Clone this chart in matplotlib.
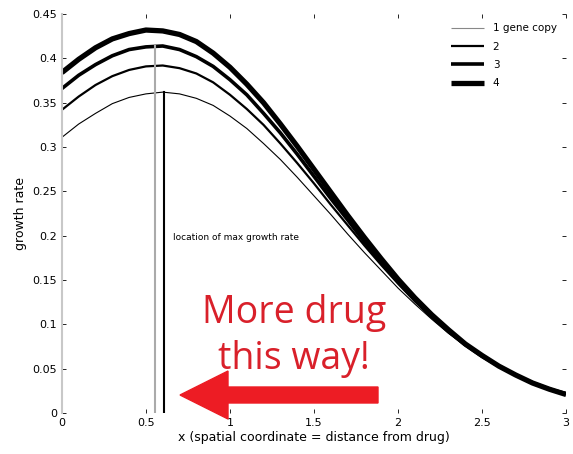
import matplotlib
matplotlib.use("Agg")
import matplotlib.pyplot as plt
from matplotlib.patches import FancyArrow

x = [0, 0.1, 0.2, 0.3, 0.4, 0.5, 0.6, 0.7, 0.8, 0.9, 1.0, 1.1, 1.2, 1.3, 1.4, 1.5,
     1.6, 1.7, 1.8, 1.9, 2.0, 2.1, 2.2, 2.3, 2.4, 2.5, 2.6, 2.7, 2.8, 2.9, 3.0]
copies1 = [0.311, 0.326, 0.338, 0.349, 0.356, 0.360, 0.362, 0.360, 0.355, 0.347, 0.335,
           0.321, 0.304, 0.286, 0.266, 0.245, 0.224, 0.202, 0.181, 0.161, 0.141, 0.123,
           0.106, 0.090, 0.076, 0.064, 0.053, 0.043, 0.035, 0.028, 0.023]
copies2 = [0.342, 0.357, 0.370, 0.380, 0.387, 0.391, 0.392, 0.389, 0.383, 0.373, 0.359,
           0.343, 0.325, 0.304, 0.282, 0.259, 0.235, 0.212, 0.189, 0.167, 0.146, 0.126,
           0.108, 0.092, 0.077, 0.064, 0.053, 0.043, 0.035, 0.028, 0.022]
copies3 = [0.366, 0.381, 0.393, 0.403, 0.410, 0.413, 0.414, 0.410, 0.402, 0.391, 0.376,
           0.359, 0.338, 0.316, 0.292, 0.267, 0.242, 0.218, 0.193, 0.170, 0.148, 0.128,
           0.109, 0.092, 0.077, 0.064, 0.053, 0.043, 0.034, 0.027, 0.022]
copies4 = [0.384, 0.399, 0.412, 0.422, 0.428, 0.432, 0.431, 0.427, 0.419, 0.406, 0.390,
           0.371, 0.350, 0.326, 0.301, 0.275, 0.249, 0.223, 0.198, 0.174, 0.151, 0.130,
           0.111, 0.094, 0.078, 0.065, 0.053, 0.043, 0.034, 0.027, 0.021]
series = [copies1, copies2, copies3, copies4]
labels = ["1 gene copy", "2", "3", "4"]
widths = [0.8, 1.6, 2.6, 3.8]

opt_grey_x, opt_grey_top = 0.555, 0.414
opt_black_x, opt_black_top = 0.607, 0.362

xticks = [0, 0.5, 1, 1.5, 2, 2.5, 3]
yticks = [0, 0.05, 0.1, 0.15, 0.2, 0.25, 0.3, 0.35, 0.4, 0.45]

fig = plt.figure(figsize=(5.73, 4.54), dpi=100)
ax = fig.add_axes([0.108, 0.090, 0.880, 0.879])

for ys, lab, lw in zip(series, labels, widths):
    ax.plot(x, ys, color="black", lw=lw, label=lab, solid_capstyle="butt")

ax.plot([opt_grey_x, opt_grey_x], [0, opt_grey_top], color="#aaaaaa", lw=1.5)
ax.plot([opt_black_x, opt_black_x], [0, opt_black_top], color="black", lw=1.5)
ax.text(0.66, 0.198, "location of max growth rate", fontsize=6.5, va="center", ha="left")

ax.set_xlim(0, 3)
ax.set_ylim(0, 0.45)
ax.set_xticks(xticks)
ax.set_xticklabels([f"{t:g}" for t in xticks])
ax.set_yticks(yticks)
ax.set_yticklabels([f"{t:g}" for t in yticks])
ax.tick_params(direction="in", length=3, labelsize=8, top=True, right=True, width=0.6)
for s in ["top", "right", "bottom"]:
    ax.spines[s].set_visible(False)
ax.spines["left"].set_color("#c8c8c8")
ax.spines["left"].set_linewidth(1.5)

ax.set_xlabel("x (spatial coordinate = distance from drug)", fontsize=9, labelpad=2)
ax.set_ylabel("growth rate", fontsize=9, labelpad=4)

leg = ax.legend(loc="upper right", frameon=False, fontsize=7.5, handlelength=3.2,
                bbox_to_anchor=(1.0, 1.0), labelspacing=0.8)
leg.get_lines()[0].set_color("#888888")

fig.text(294 / 573, 1 - 336 / 454, "More drug\nthis way!", color="#d9202a",
         fontsize=27, ha="center", va="center", family="Open Sans", linespacing=1.28)

arrow = FancyArrow(3.78, (454 - 395) / 100, -1.98, 0, width=0.16, head_width=0.48,
                   head_length=0.48, length_includes_head=True, color="#ed1c24",
                   transform=fig.dpi_scale_trans, clip_on=False)
fig.patches.append(arrow)

fig.savefig("out.png", dpi=100)
